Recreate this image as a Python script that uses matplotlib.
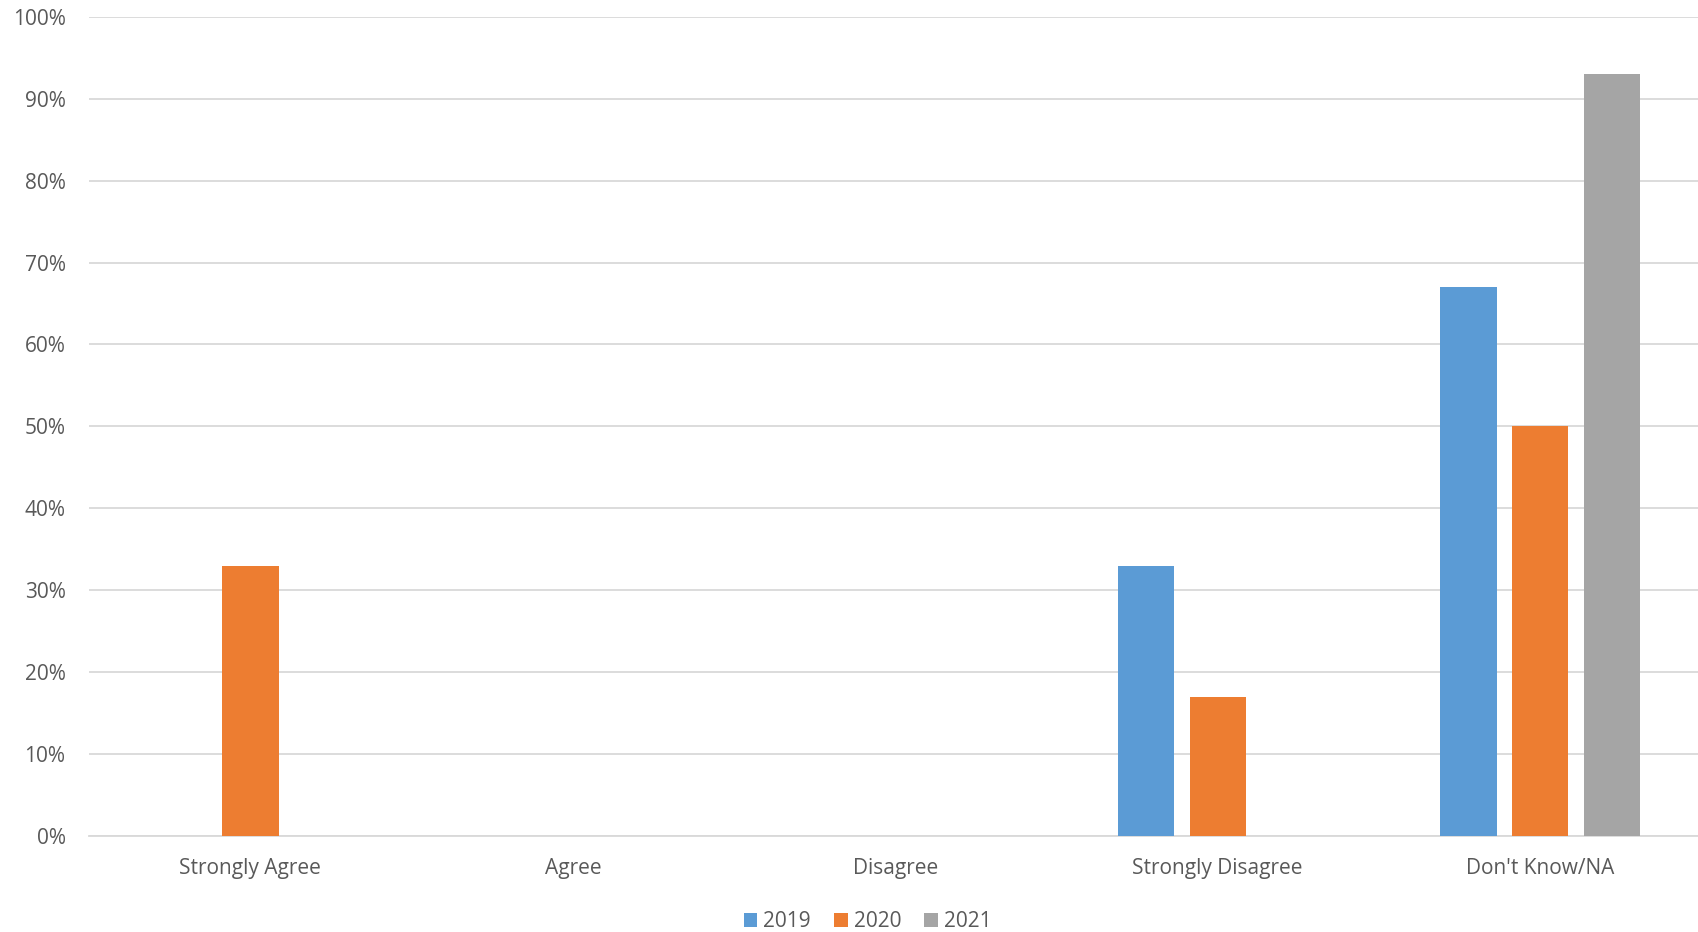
"""Survey response share by year, grouped bar chart."""

import matplotlib.pyplot as plt
import numpy as np
from matplotlib.ticker import PercentFormatter

plt.rcParams["font.family"] = ["Open Sans", "DejaVu Sans"]

categories = ["Strongly Agree", "Agree", "Disagree", "Strongly Disagree", "Don't Know/NA"]
years = ["2019", "2020", "2021"]
values_2019 = [0, 0, 0, 33, 67]
values_2020 = [33, 0, 0, 17, 50]
values_2021 = [0, 0, 0, 0, 93]

colors = ["#5B9BD5", "#ED7D31", "#A5A5A5"]
text_color = "#595959"
grid_color = "#D9D9D9"

fig = plt.figure(figsize=(16.98, 9.32), dpi=100)
ax = fig.add_axes([0.0525, 0.103, 0.9495, 0.879])

x = np.arange(len(categories))
width = 0.175
offset = 0.222
series = [values_2019, values_2020, values_2021]
for i, (vals, year) in enumerate(zip(series, years)):
    ax.bar(x + (i - 1) * offset, vals, width=width, color=colors[i], label=year, zorder=3)

ax.set_xlim(-0.5, len(categories) - 0.5)
ax.set_ylim(0, 100)
ax.set_yticks(np.arange(0, 101, 10))
ax.yaxis.set_major_formatter(PercentFormatter(decimals=0))
ax.set_xticks(x)
ax.set_xticklabels(categories)

ax.grid(axis="y", color=grid_color, linewidth=1.3, zorder=0)
for side in ["top", "right", "left"]:
    ax.spines[side].set_visible(False)
ax.spines["bottom"].set_color(grid_color)
ax.spines["bottom"].set_linewidth(1.3)

ax.tick_params(axis="y", length=0, pad=17, labelsize=15, labelcolor=text_color)
ax.tick_params(axis="x", length=0, pad=16, labelsize=15, labelcolor=text_color)

fig.legend(
    loc="center",
    bbox_to_anchor=(0.511, 0.011),
    ncol=3,
    frameon=False,
    fontsize=15,
    labelcolor=text_color,
    handlelength=0.65,
    handleheight=0.65,
    handletextpad=0.3,
    columnspacing=1.1,
)

plt.savefig("out.png", dpi=100)
plt.close()
